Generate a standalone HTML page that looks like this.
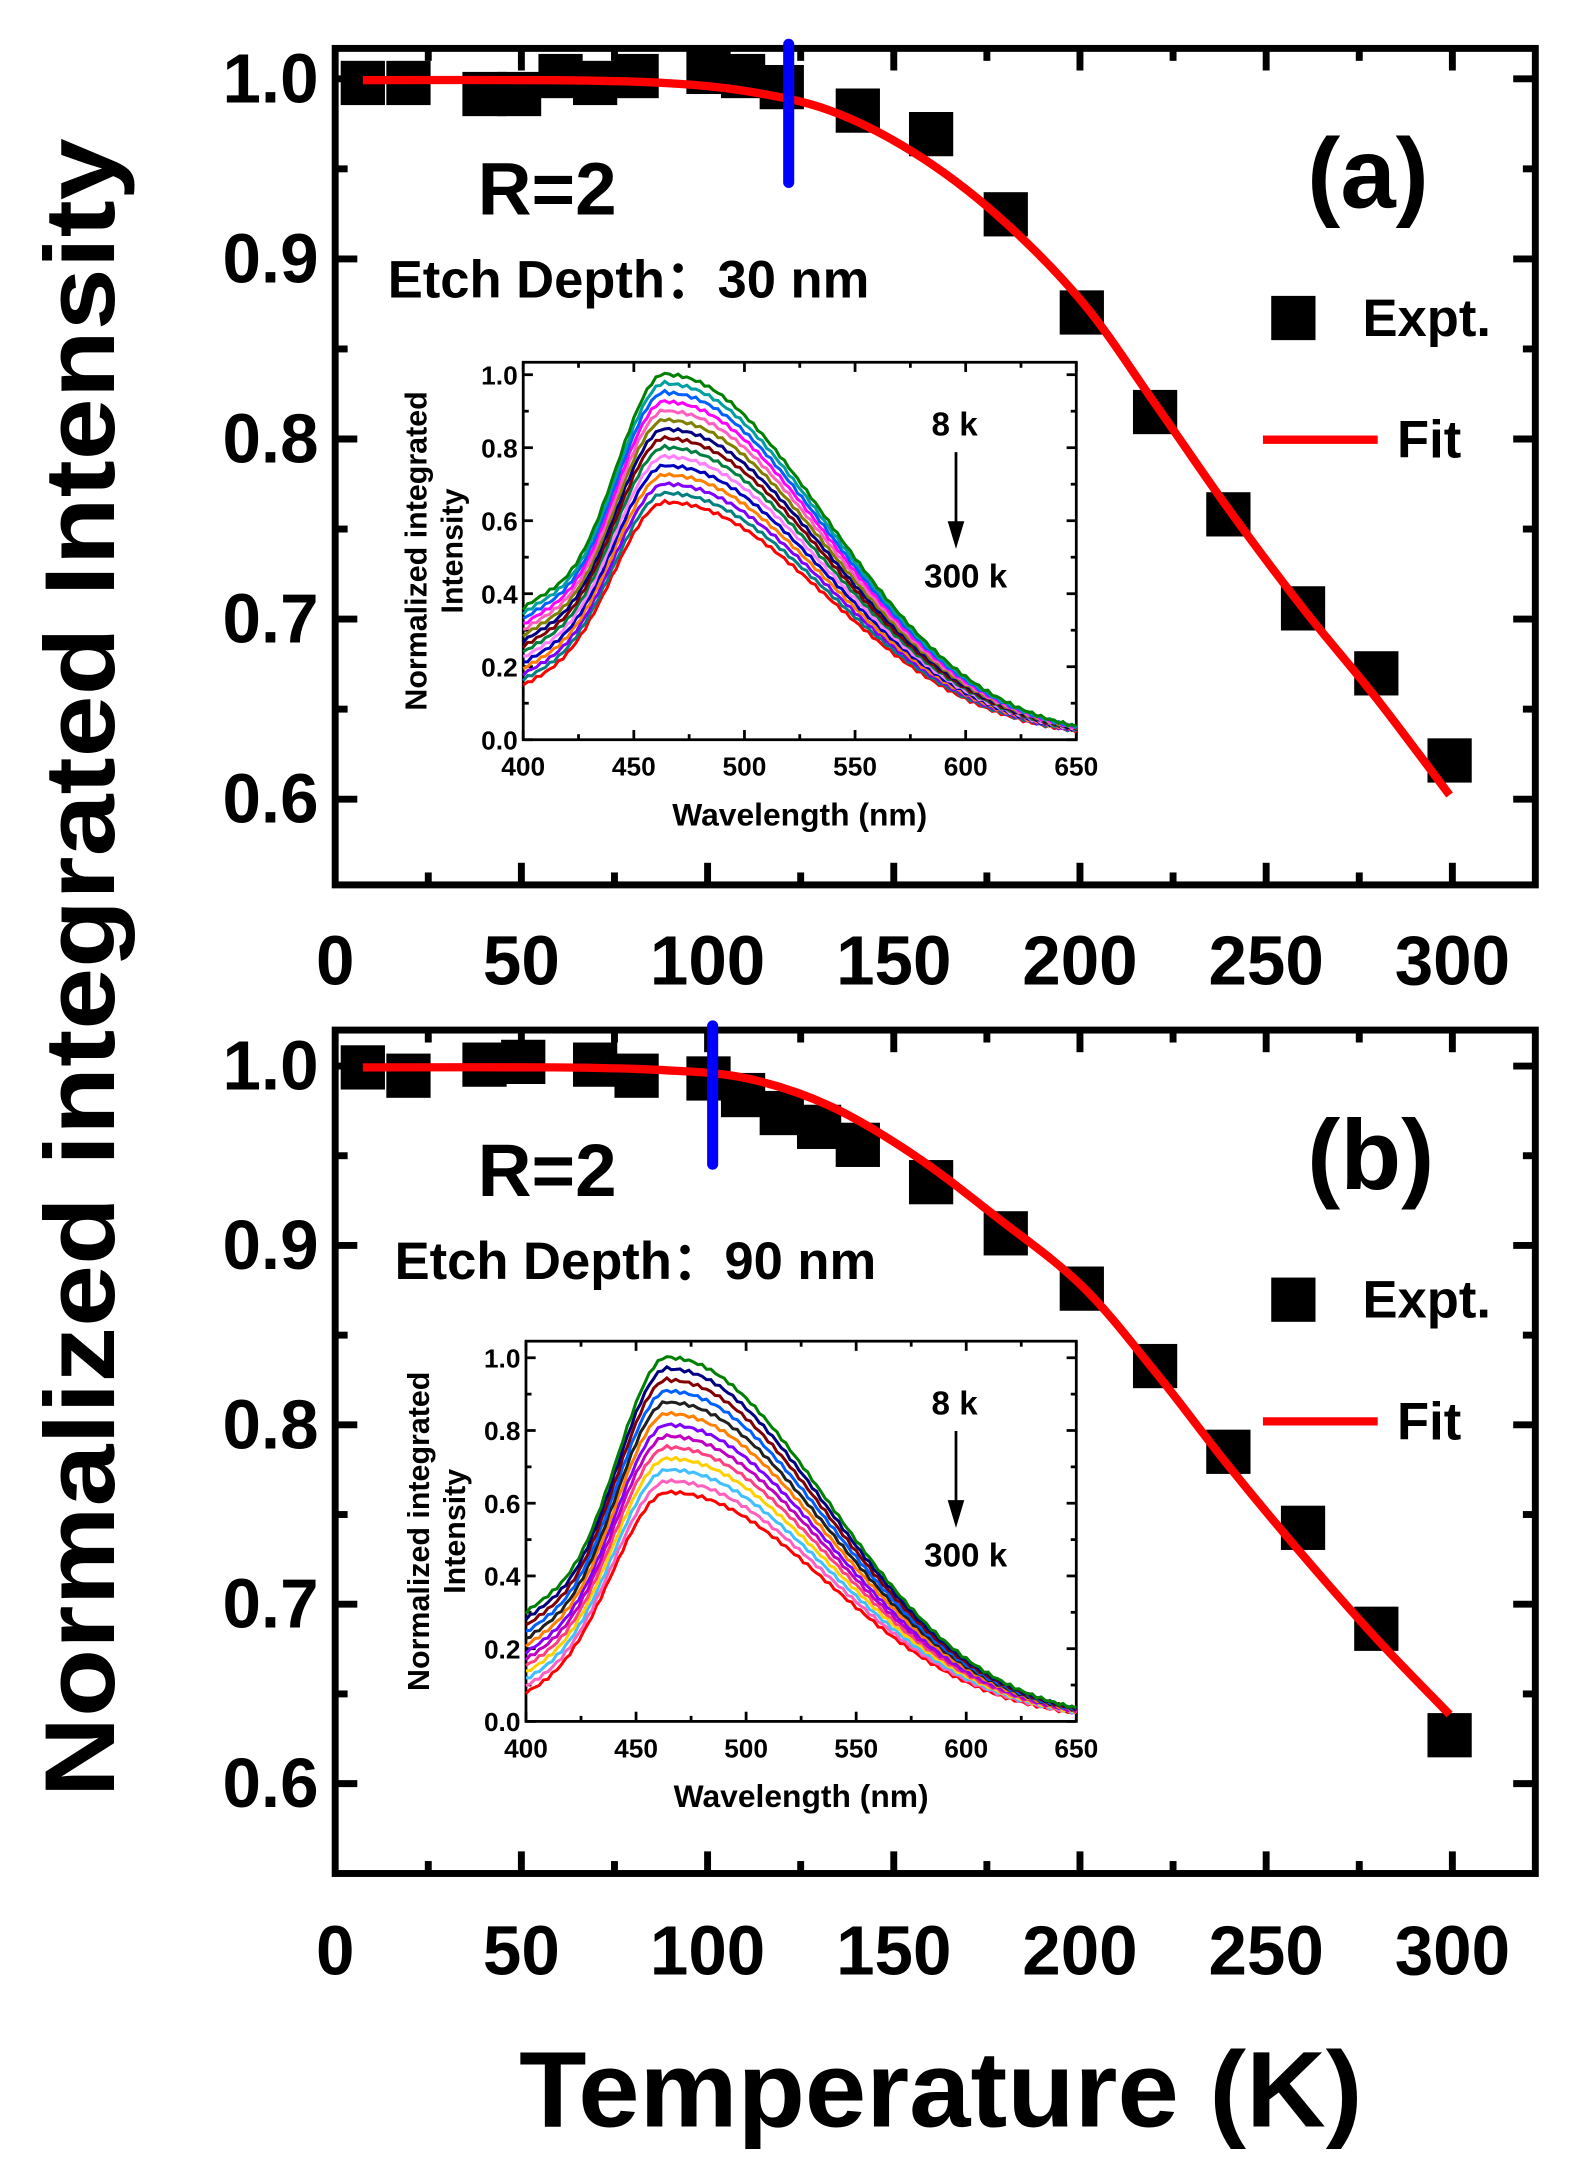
<!DOCTYPE html>
<html><head><meta charset="utf-8"><style>
html,body{margin:0;padding:0;background:#fff;}
svg{display:block;}
text{font-family:"Liberation Sans",Arial,sans-serif;font-weight:bold;fill:#000;}
</style></head><body>
<svg id="s" width="1576" height="2168" viewBox="0 0 1139 1568" xmlns="http://www.w3.org/2000/svg">
<rect width="1139" height="1568" fill="#fff"/>
<g id="g"></g>
<text x="0" y="0" transform="translate(82,700) rotate(-90)" text-anchor="middle" font-size="72" textLength="1200" lengthAdjust="spacingAndGlyphs">Normalized integrated Intensity</text>
<text x="680" y="1538" text-anchor="middle" font-size="78" textLength="610" lengthAdjust="spacingAndGlyphs">Temperature (K)</text>
</svg>
<script>
const NS="http://www.w3.org/2000/svg";
const G=document.getElementById('g');
function el(t,a,txt){const e=document.createElementNS(NS,t);for(const k in a)e.setAttribute(k,a[k]);if(txt!==undefined)e.textContent=txt;G.appendChild(e);return e;}
function panel(o){
 const L=242,R=1110,T=o.top,B=o.bot;
 const X=t=>242+t*(1050-242)/300;
 const Y=v=>o.y1+(1-v)*(o.y6-o.y1)/0.4;
 el('rect',{x:L,y:T,width:R-L,height:B-T,fill:'none',stroke:'#000','stroke-width':5});
 for(let t=0;t<=320;t+=25){const x=X(t);if(x>R-3)continue;const m=t%50==0?16:9;
  if(x>=L+3){
  el('line',{x1:x,y1:B,x2:x,y2:B-m,stroke:'#000','stroke-width':5});
  el('line',{x1:x,y1:T,x2:x,y2:T+m,stroke:'#000','stroke-width':5});}
  if(t%50==0)el('text',{x:x,y:o.xl,'text-anchor':'middle','font-size':50},String(t));}
 for(let v=0.55;v<=1.02;v+=0.05){const y=Y(v);if(y<T+3||y>B-3)continue;const maj=Math.abs(Math.round(v*10)-v*10)<0.01;const m=maj?16:9;
  el('line',{x1:L,y1:y,x2:L+m,y2:y,stroke:'#000','stroke-width':5});
  el('line',{x1:R,y1:y,x2:R-m,y2:y,stroke:'#000','stroke-width':5});
  if(maj)el('text',{x:L-12,y:y+17,'text-anchor':'end','font-size':50},v.toFixed(1));}
 const P=o.fit;let d='M'+P[0][0]+','+P[0][1];
 for(let i=0;i<P.length-1;i++){const p0=P[Math.max(i-1,0)],p1=P[i],p2=P[i+1],p3=P[Math.min(i+2,P.length-1)];
  d+=`C${p1[0]+(p2[0]-p0[0])/6},${p1[1]+(p2[1]-p0[1])/6} ${p2[0]-(p3[0]-p1[0])/6},${p2[1]-(p3[1]-p1[1])/6} ${p2[0]},${p2[1]}`;}
 o.pts.forEach(p=>el('rect',{x:p[0]-16,y:p[1]-16,width:32,height:32,fill:'#000'}));
 el('path',{d:d,fill:'none',stroke:'#f00','stroke-width':6});
 el('line',{x1:o.blue,y1:o.top-3,x2:o.blue,y2:o.top+97,stroke:'#0000ff','stroke-width':8,'stroke-linecap':'round'});
 el('text',{x:345,y:o.top+120,'font-size':54},'R=2');
 el('text',{x:o.ex,y:o.top+180,'font-size':38},'Etch Depth：'+o.depth+' nm');
 el('text',{x:945,y:o.top+115,'font-size':72},o.lab);
 el('rect',{x:919,y:o.top+179,width:32,height:32,fill:'#000'});
 el('text',{x:985,y:o.top+208,'font-size':38},'Expt.');
 el('line',{x1:913,y1:o.top+283,x2:996,y2:o.top+283,stroke:'#f00','stroke-width':6});
 el('text',{x:1010,y:o.top+296,'font-size':38},'Fit');
 const iL=o.iL,iR=778,iT=o.iT,iB=o.iB;
 const WX=w=>iL+(w-400)*(iR-iL)/250, IY=v=>iB-v*(iB-o.i1)/1.0;
 el('rect',{x:iL,y:iT,width:iR-iL,height:iB-iT,fill:'none',stroke:'#000','stroke-width':2});
 for(let w=400;w<=650;w+=25){const x=WX(w);const m=w%50==0?7:4;
  el('line',{x1:x,y1:iB,x2:x,y2:iB-m,stroke:'#000','stroke-width':2});el('line',{x1:x,y1:iT,x2:x,y2:iT+m,stroke:'#000','stroke-width':2});
  if(w%50==0)el('text',{x:x,y:iB+26,'text-anchor':'middle','font-size':19},String(w));}
 for(let v=0;v<=1.01;v+=0.1){const y=IY(v);const maj=Math.round(v*10)%2==0;const m=maj?7:4;
  el('line',{x1:iL,y1:y,x2:iL+m,y2:y,stroke:'#000','stroke-width':2});el('line',{x1:iR,y1:y,x2:iR-m,y2:y,stroke:'#000','stroke-width':2});
  if(maj)el('text',{x:iL-4,y:y+7,'text-anchor':'end','font-size':19},v.toFixed(1));}
 el('text',{x:(iL+iR)/2,y:iB+62,'text-anchor':'middle','font-size':23},'Wavelength (nm)');
 el('text',{x:0,y:0,transform:`translate(${iL-70},${(iT+iB)/2}) rotate(-90)`,'text-anchor':'middle','font-size':22},'Normalized integrated');
 el('text',{x:0,y:0,transform:`translate(${iL-44},${(iT+iB)/2}) rotate(-90)`,'text-anchor':'middle','font-size':22},'Intensity');
 el('text',{x:690,y:iT+53,'text-anchor':'middle','font-size':24},'8 k');
 el('line',{x1:691,y1:iT+65,x2:691,y2:iT+120,stroke:'#000','stroke-width':2});
 el('path',{d:`M685,${iT+115}L697,${iT+115}L691,${iT+135}Z`,fill:'#000'});
 el('text',{x:698,y:iT+163,'text-anchor':'middle','font-size':24},'300 k');
 const cols=o.cols;const n=cols.length;
 for(let k=n-1;k>=0;k--){const f=k/(n-1);const A=1-f*(1-o.amin);const b0=o.b0max-f*(o.b0max-o.b0min);
  let dd='';for(let w=400;w<=650;w+=2){let v;
   if(w<465){const g=Math.exp(-Math.pow((w-465)/27,2)/2);v=A*g+(b0-A*Math.exp(-Math.pow(65/27,2)/2))*Math.exp(-Math.pow((w-400)/22,2)/2);}
   else{v=A*Math.exp(-Math.pow((w-465)/72,2)/2);}
   v+=Math.sin(w*1.3+k)*0.004;
   dd+=(w==400?'M':'L')+WX(w).toFixed(1)+','+IY(v).toFixed(1);}
  el('path',{d:dd,fill:'none',stroke:cols[k],'stroke-width':2.2});}
}
const colsA=['#008000','#00a0a0','#0060ff','#ff00ff','#ff60c0','#808000','#000080','#800000','#008040','#ff80ff','#0000c0','#ff8000','#8000ff','#008080','#ff0000'];
const colsB=['#008000','#000080','#800000','#0060ff','#202020','#ff8000','#8000ff','#c000c0','#ff4080','#ffd000','#40c0ff','#ff60c0','#ff0000'];
panel({top:35,bot:640,y1:57,y6:578,xl:712,blue:570,ex:280,depth:'30',lab:'(a)',
 pts:[[262,60],[295,60],[350,68],[375,68],[405,55],[430,60],[460,55],[512,52],[537,55],[565,63],[620,80],[673,97],[727,155],[782,226],[835,298],[888,372],[942,440],[995,487],[1048,550]],
 fit:[[262,58],[400,58],[480,60],[540,66],[600,80],[660,110],[720,155],[782,218],[835,292],[888,368],[942,440],[995,505],[1048,575]],
 iL:378,iT:262,iB:535,i1:271,amin:0.65,b0max:0.36,b0min:0.15,cols:colsA});
panel({top:745,bot:1355,y1:771,y6:1290,xl:1428,blue:515,ex:285,depth:'90',lab:'(b)',
 pts:[[262,772],[295,778],[350,770],[378,768],[430,770],[460,778],[512,780],[537,792],[565,805],[592,815],[620,828],[673,855],[727,892],[782,932],[835,988],[888,1050],[942,1105],[995,1178],[1048,1255]],
 fit:[[262,772],[400,772],[480,774],[540,780],[600,800],[660,835],[720,880],[782,930],[835,992],[888,1060],[942,1125],[995,1185],[1048,1240]],
 iL:380,iT:970,iB:1245,i1:982,amin:0.63,b0max:0.3,b0min:0.08,cols:colsB});
</script>
</body></html>
